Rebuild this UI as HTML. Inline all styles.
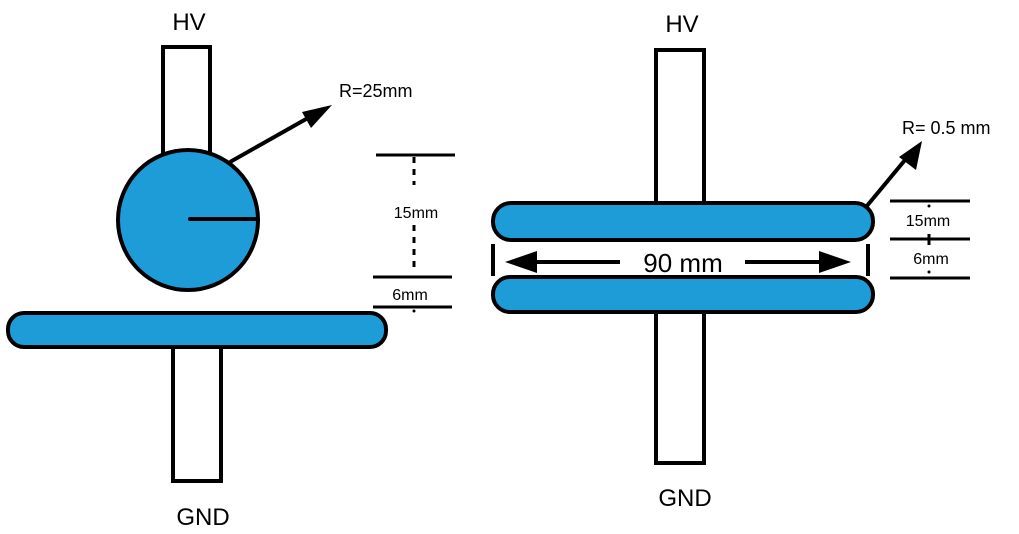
<!DOCTYPE html>
<html><head><meta charset="utf-8"><style>
html,body{margin:0;padding:0;background:#fff;}
svg{display:block;font-family:"Liberation Sans","DejaVu Sans",sans-serif;}
</style></head><body>
<svg width="1019" height="534" viewBox="0 0 1019 534" xmlns="http://www.w3.org/2000/svg">
<g stroke="#000" stroke-width="4" fill="none">
<!-- LEFT -->
<rect x="163" y="47" width="47" height="115" fill="#fff"/>
<circle cx="188" cy="220" r="70" fill="#1e9cd7"/>
<line x1="190" y1="219" x2="258" y2="219" stroke-linecap="round"/>
<line x1="230" y1="162" x2="315" y2="114"/>
<rect x="173" y="340" width="48" height="141" fill="#fff"/>
<rect x="8" y="313" width="378" height="34" rx="16" fill="#1e9cd7"/>
<line x1="376" y1="155" x2="455" y2="155" stroke-width="3"/>
<line x1="373" y1="277" x2="452" y2="277" stroke-width="3"/>
<line x1="373" y1="307" x2="452" y2="307" stroke-width="3"/>
<line x1="414" y1="157" x2="414" y2="185" stroke-width="3" stroke-dasharray="6,6"/>
<line x1="414" y1="225" x2="414" y2="272" stroke-width="3" stroke-dasharray="6,6"/>
<!-- RIGHT -->
<rect x="656" y="50" width="48" height="160" fill="#fff"/>
<rect x="656" y="305" width="48" height="158" fill="#fff"/>
<rect x="493" y="203" width="380" height="37" rx="18" fill="#1e9cd7"/>
<rect x="493" y="277" width="380" height="35" rx="17" fill="#1e9cd7"/>
<line x1="493" y1="244" x2="493" y2="276"/>
<line x1="868" y1="244" x2="868" y2="276"/>
<line x1="530" y1="262" x2="620" y2="262"/>
<line x1="745" y1="262" x2="825" y2="262"/>
<line x1="866" y1="207" x2="910" y2="154"/>
<line x1="890" y1="201" x2="970" y2="201" stroke-width="3"/>
<line x1="890" y1="239" x2="970" y2="239" stroke-width="3"/>
<line x1="890" y1="278" x2="970" y2="278" stroke-width="3"/>
<line x1="929" y1="234" x2="929" y2="245" stroke-width="3"/>
</g>
<g fill="#000">
<polygon points="332,105 311,128 302,112"/>
<polygon points="505,262 537,251 537,273"/>
<polygon points="851,262 819,251 819,273"/>
<polygon points="922,141 916,170 899,157"/>
<circle cx="929" cy="206" r="1.5"/>
<circle cx="929" cy="272" r="1.5"/>
<circle cx="414" cy="311" r="1.5"/>
</g>
<g fill="#000" text-anchor="middle">
<text x="189" y="30" font-size="24">HV</text>
<text x="203" y="525" font-size="24">GND</text>
<text x="339" y="97" font-size="18" text-anchor="start">R=25mm</text>
<text x="416" y="218" font-size="16">15mm</text>
<text x="410" y="300" font-size="16">6mm</text>
<text x="682" y="32" font-size="24">HV</text>
<text x="685" y="506" font-size="24">GND</text>
<text x="683" y="272" font-size="26">90 mm</text>
<text x="902" y="134" font-size="18" text-anchor="start">R= 0.5 mm</text>
<text x="928" y="226" font-size="16">15mm</text>
<text x="931" y="264" font-size="16">6mm</text>
</g>
</svg>
</body></html>
